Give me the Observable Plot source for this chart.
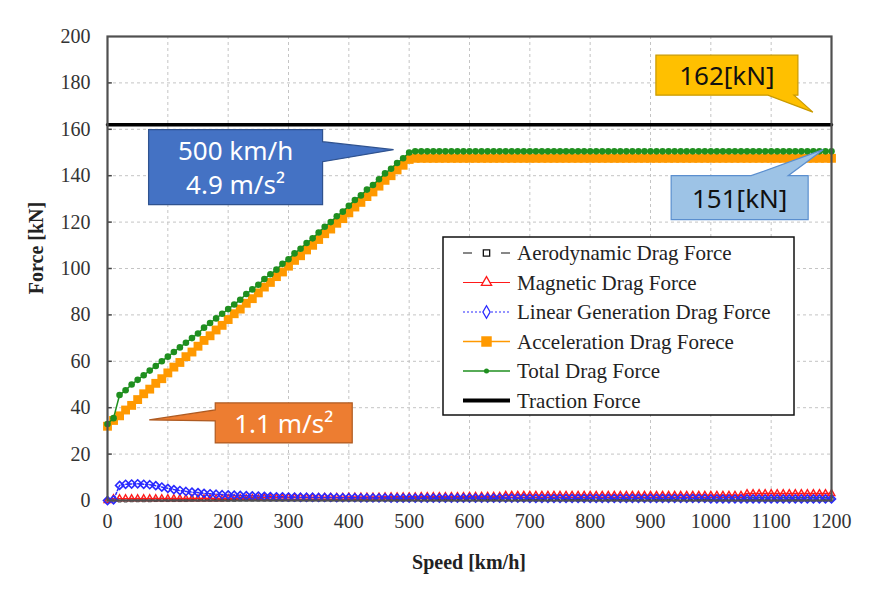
<!DOCTYPE html>
<html><head><meta charset="utf-8">
<script src="https://cdn.jsdelivr.net/npm/d3@7"></script>
<script src="https://cdn.jsdelivr.net/npm/@observablehq/plot@0.6"></script>
<style>body{margin:0;background:#fff;}</style>
</head><body><div id="chart"></div>
<script>
// ---- data ----
const speed = [
  0,10,20,30,40,50,60,70,80,90,
  100,110,120,130,140,150,160,170,180,190,
  200,210,220,230,240,250,260,270,280,290,
  300,310,320,330,340,350,360,370,380,390,
  400,410,420,430,440,450,460,470,480,490,
  500,510,520,530,540,550,560,570,580,590,
  600,610,620,630,640,650,660,670,680,690,
  700,710,720,730,740,750,760,770,780,790,
  800,810,820,830,840,850,860,870,880,890,
  900,910,920,930,940,950,960,970,980,990,
  1000,1010,1020,1030,1040,1050,1060,1070,1080,1090,
  1100,1110,1120,1130,1140,1150,1160,1170,1180,1190,
  1200];
const aeroDrag = [
  0,0.1,0.1,0.1,0.2,0.2,0.2,0.2,0.3,0.3,
  0.3,0.3,0.3,0.3,0.4,0.4,0.4,0.4,0.4,0.4,
  0.4,0.4,0.5,0.5,0.5,0.5,0.5,0.5,0.5,0.5,
  0.5,0.5,0.5,0.5,0.5,0.5,0.5,0.5,0.5,0.5,
  0.5,0.5,0.5,0.5,0.5,0.5,0.5,0.5,0.5,0.5,
  0.5,0.5,0.5,0.5,0.5,0.5,0.5,0.5,0.5,0.5,
  0.5,0.5,0.5,0.5,0.5,0.5,0.5,0.5,0.5,0.5,
  0.5,0.5,0.5,0.5,0.5,0.5,0.5,0.5,0.5,0.5,
  0.5,0.5,0.5,0.5,0.5,0.5,0.5,0.5,0.5,0.5,
  0.5,0.5,0.5,0.5,0.5,0.5,0.5,0.5,0.5,0.5,
  0.5,0.5,0.5,0.5,0.5,0.5,0.5,0.5,0.5,0.5,
  0.5,0.5,0.5,0.5,0.5,0.5,0.5,0.5,0.5,0.5,
  0.5];
const magneticDrag = [
  0,0.8,0.8,0.8,0.8,0.8,0.8,0.8,0.8,0.8,
  0.8,0.8,0.8,0.8,0.8,0.8,0.8,0.8,0.8,0.8,
  0.9,0.9,0.9,0.9,0.9,0.9,1.2,1.2,1.2,1.2,
  1.3,1.3,1.3,1.3,1.3,1.3,1.4,1.4,1.4,1.4,
  1.5,1.5,1.5,1.5,1.5,1.5,1.6,1.6,1.6,1.6,
  1.6,1.6,1.7,1.7,1.7,1.7,1.7,1.7,1.7,1.7,
  1.8,1.8,1.8,1.8,1.8,1.8,2.3,2.3,2.3,2.3,
  2.3,2.3,2.3,2.3,2.3,2.3,2.3,2.3,2.3,2.3,
  2.3,2.3,2.3,2.3,2.3,2.3,2.3,2.3,2.3,2.3,
  2.3,2.3,2.3,2.3,2.3,2.3,2.3,2.3,2.3,2.3,
  2.3,2.3,2.3,2.3,2.3,2.3,3.0,3.0,3.0,3.0,
  3.0,3.0,3.0,3.0,3.0,3.0,3.0,3.0,3.0,3.0,
  3.0];
const linearGenDrag = [
  0,0.3,6.5,7,7.1,7.2,7,6.8,6.4,5.8,
  5.2,4.7,4.3,3.9,3.6,3.4,3.1,2.9,2.7,2.5,
  2.4,2.3,2.2,2.1,2,1.9,1.8,1.7,1.6,1.6,
  1.5,1.5,1.4,1.4,1.4,1.3,1.3,1.3,1.2,1.2,
  1.2,1.2,1.1,1.1,1.1,1.1,1.1,1,1,1,
  1,1,1,1,1,1,1,1,1,1,
  1,1,1,1,1,1,1,1,1,1,
  0.9,0.9,0.9,0.9,0.9,0.9,0.9,0.9,0.9,0.9,
  0.9,0.9,0.9,0.9,0.9,0.9,0.9,0.9,0.9,0.9,
  0.9,0.9,0.9,0.9,0.9,0.9,0.9,0.9,0.9,0.9,
  0.7,0.7,0.7,0.7,0.7,0.7,0.7,0.7,0.7,0.7,
  0.7,0.7,0.7,0.7,0.7,0.7,0.7,0.7,0.7,0.7,
  0.7];
const accelerationDrag = [
  32,34.5,36.5,39,41,43.5,46,48,50.5,52.5,
  55,57.5,59.5,62,64,66.5,69,71,73.5,75.5,
  78,80.5,82.5,85,87,89.5,92,94,96.5,98.5,
  101,103.5,105.5,108,110,112.5,115,117,119.5,121.5,
  124,126.5,128.5,131,133,135.5,138,140,142.5,144.5,
  147,147.5,147.5,147.5,147.5,147.5,147.5,147.5,147.5,147.5,
  147.5,147.5,147.5,147.5,147.5,147.5,147.5,147.5,147.5,147.5,
  147.5,147.5,147.5,147.5,147.5,147.5,147.5,147.5,147.5,147.5,
  147.5,147.5,147.5,147.5,147.5,147.5,147.5,147.5,147.5,147.5,
  147.5,147.5,147.5,147.5,147.5,147.5,147.5,147.5,147.5,147.5,
  147.5,147.5,147.5,147.5,147.5,147.5,147.5,147.5,147.5,147.5,
  147.5,147.5,147.5,147.5,147.5,147.5,147.5,147.5,147.5,147.5,
  147.5];
const totalDrag = [
  33,35.5,45.5,47.5,50,52,54,56,58,60,
  62,64,66,68,70,72,74.5,76.5,78.5,80.5,
  82.5,84.5,86.5,89,91,93,95.5,97.5,99.5,102,
  104,106.5,108.5,111,113,115.5,118,120,122.5,124.5,
  127,129.5,131.5,134,136,138.5,141,143,145.5,147.5,
  150,150.5,150.5,150.5,150.5,150.5,150.5,150.5,150.5,150.5,
  150.5,150.5,150.5,150.5,150.5,150.5,150.5,150.5,150.5,150.5,
  150.5,150.5,150.5,150.5,150.5,150.5,150.5,150.5,150.5,150.5,
  150.5,150.5,150.5,150.5,150.5,150.5,150.5,150.5,150.5,150.5,
  150.5,150.5,150.5,150.5,150.5,150.5,150.5,150.5,150.5,150.5,
  150.5,150.5,150.5,150.5,150.5,150.5,150.5,150.5,150.5,150.5,
  150.5,150.5,150.5,150.5,150.5,150.5,150.5,150.5,150.5,150.5,
  150.5];
const tractionForce = 162;
const seriesNames = ["Aerodynamic Drag Force","Magnetic Drag Force","Linear Generation Drag Force","Acceleration Drag Forece","Total Drag Force","Traction Force"];
const xTicks = [0,100,200,300,400,500,600,700,800,900,1000,1100,1200];
const yTicks = [0,20,40,60,80,100,120,140,160,180,200];
const calloutTexts = {traction:"162[kN]", total:"151[kN]", kink:["500 km/h","4.9 m/s²"], start:"1.1 m/s²"};

// ---- build ----
const rows = vals => speed.map((s,i)=>({speed:s, force:vals[i]}));
const aero = rows(aeroDrag), mag = rows(magneticDrag), lin = rows(linearGenDrag),
      acc = rows(accelerationDrag), tot = rows(totalDrag);
const traction = [{speed:speed[0], force:tractionForce},{speed:speed[speed.length-1], force:tractionForce}];

const C = {aero:"#111", mag:"#ff1a1a", lin:"#2a2aff", acc:"#ff9900", tot:"#1f8f1f", tr:"#000"};
const XY = {x:"speed", y:"force"};

const chart = Plot.plot({
  width: 871, height: 598,
  marginLeft: 107, marginRight: 40, marginTop: 36, marginBottom: 98,
  style: {fontFamily:"'Liberation Serif', serif", fontSize:"20px", color:"#333", background:"#fff"},
  x: {domain:[0,1200], axis:null},
  y: {domain:[0,200], axis:null},
  marks: [
    Plot.ruleX(xTicks.slice(1,-1), {stroke:"#c4c4c4", strokeDasharray:"3,3", strokeWidth:1}),
    Plot.ruleY(yTicks.slice(1,-1), {stroke:"#c4c4c4", strokeDasharray:"3,3", strokeWidth:1}),
    Plot.ruleY(yTicks.slice(1,-1), {x1:0, x2:8, stroke:"#444", strokeWidth:1.5}),
    Plot.axisX(xTicks, {tickSize:0, tickPadding:13, fill:"#333", label:null, tickFormat:d=>String(d)}),
    Plot.axisY(yTicks, {tickSize:0, tickPadding:17, fill:"#333", label:null, tickFormat:d=>String(d)}),
    // aerodynamic
    Plot.line(aero, {...XY, stroke:C.aero, strokeWidth:1, strokeDasharray:"4,3"}),
    Plot.dot(aero, {...XY, symbol:"square2", stroke:C.aero, r:2.2, strokeWidth:0.8}),
    // magnetic
    Plot.line(mag, {...XY, stroke:C.mag, strokeWidth:1.5}),
    Plot.dot(mag, {...XY, symbol:"triangle2", stroke:C.mag, r:3.2, strokeWidth:1.4}),
    // linear generation
    Plot.line(lin, {...XY, stroke:C.lin, strokeWidth:1.5, strokeDasharray:"2,2"}),
    Plot.dot(lin, {...XY, symbol:"diamond2", stroke:C.lin, r:3.6, strokeWidth:1.6}),
    // acceleration
    Plot.line(acc, {...XY, stroke:C.acc, strokeWidth:1.5}),
    Plot.dot(acc, {...XY, symbol:"square", fill:C.acc, r:5}),
    // total
    Plot.line(tot, {...XY, stroke:C.tot, strokeWidth:1.5}),
    Plot.dot(tot, {...XY, symbol:"circle", fill:C.tot, r:3.3}),
    // traction
    Plot.line(traction, {...XY, stroke:C.tr, strokeWidth:3.5}),
    Plot.frame({stroke:"#505050", strokeWidth:2.2})
  ]
});
document.getElementById("chart").appendChild(chart);

// ---- annotations, axis titles, legend ----
const sx = chart.scale("x"), sy = chart.scale("y");
const X = v => sx.apply(v), Y = v => sy.apply(v);
const svg = d3.select(chart);
const g = svg.append("g").attr("text-anchor","start");

// axis titles
g.append("text").attr("x", (X(0)+X(1200))/2).attr("y", 562)
  .attr("text-anchor","middle").attr("dominant-baseline","central")
  .attr("font-family","'Liberation Serif', serif").attr("font-weight","bold")
  .attr("font-size",20).attr("fill","#222").text("Speed [km/h]");
g.append("text").attr("transform","translate(36,248) rotate(-90)")
  .attr("text-anchor","middle").attr("dominant-baseline","central")
  .attr("font-family","'Liberation Serif', serif").attr("font-weight","bold")
  .attr("font-size",20).attr("fill","#222").text("Force [kN]");

// legend
const lg = g.append("g");
const L = {x0:443, y0:237, w:351, h:178, row0:253, dy:29.5, sx0:463, sx1:510, tx:517};
lg.append("rect").attr("x",L.x0).attr("y",L.y0).attr("width",L.w).attr("height",L.h)
  .attr("fill","#fff").attr("stroke","#111").attr("stroke-width",1.5);
const legendStyles = [
  {stroke:C.aero, dash:"9,29", w:1.2, sym:d3.symbolSquare, size:40, fill:"#fff", sstroke:C.aero},
  {stroke:C.mag, dash:null, w:1.2, sym:d3.symbolTriangle, size:45, fill:"#fff", sstroke:C.mag},
  {stroke:C.lin, dash:"2,2", w:1.2, sym:d3.symbolDiamond, size:45, fill:"#fff", sstroke:C.lin},
  {stroke:C.acc, dash:null, w:1.5, sym:d3.symbolSquare, size:110, fill:C.acc, sstroke:"none"},
  {stroke:C.tot, dash:null, w:1.5, sym:d3.symbolCircle, size:20, fill:C.tot, sstroke:"none"},
  {stroke:C.tr, dash:null, w:4, sym:null}
];
seriesNames.forEach((name,i)=>{
  const yy = L.row0 + i*L.dy, s = legendStyles[i];
  const ln = lg.append("line").attr("x1",L.sx0).attr("x2",L.sx1).attr("y1",yy).attr("y2",yy)
    .attr("stroke",s.stroke).attr("stroke-width",s.w);
  if (s.dash) ln.attr("stroke-dasharray",s.dash);
  if (s.sym) lg.append("path").attr("d",d3.symbol(s.sym,s.size)())
    .attr("transform",`translate(${(L.sx0+L.sx1)/2},${yy})`)
    .attr("fill",s.fill).attr("stroke",s.sstroke).attr("stroke-width",1.3);
  lg.append("text").attr("x",L.tx).attr("y",yy).attr("dominant-baseline","central")
    .attr("text-anchor","start")
    .attr("font-family","'Liberation Serif', serif").attr("font-size",21).attr("fill","#222").text(name);
});

// callouts
function callout({tip, box:[bx,by,bw,bh], edge, n1, n2, fill, stroke, lines, color, lineGap}) {
  const x1 = bx+bw, y1 = by+bh;
  let pts;
  if (edge==="top") pts = [[bx,by],[n1,by],tip,[n2,by],[x1,by],[x1,y1],[bx,y1]];
  else if (edge==="right") pts = [[bx,by],[x1,by],[x1,n1],tip,[x1,n2],[x1,y1],[bx,y1]];
  else if (edge==="bottom") pts = [[bx,by],[x1,by],[x1,y1],[n2,y1],tip,[n1,y1],[bx,y1]];
  else pts = [[bx,by],[x1,by],[x1,y1],[bx,y1],[bx,n2],tip,[bx,n1]];
  g.append("path").attr("d","M"+pts.map(p=>p.join(",")).join("L")+"Z")
    .attr("fill",fill).attr("stroke",stroke).attr("stroke-width",1.2);
  const cy = by+bh/2, gap = lineGap||0;
  lines.forEach((t,i)=>{
    g.append("text").attr("x",bx+bw/2).attr("y",cy + (i-(lines.length-1)/2)*gap)
      .attr("text-anchor","middle").attr("dominant-baseline","central")
      .attr("font-family","'Noto Sans', sans-serif").attr("font-size",26).attr("fill",color).text(t);
  });
}
{
  const t = [X(1170), Y(tractionForce)-12];
  callout({tip:t, box:[t[0]-157,t[1]-57,142,40], edge:"bottom", n1:t[0]-45, n2:t[0]-19,
    fill:"#ffc000", stroke:"#c99a00", lines:[calloutTexts.traction], color:"#111"});
}
{
  const t = [X(1187), Y(151)];
  callout({tip:t, box:[t[0]-152,t[1]+26,137,44], edge:"top", n1:t[0]-72, n2:t[0]-35,
    fill:"#9dc3e6", stroke:"#5b8fcf", lines:[calloutTexts.total], color:"#111"});
}
{
  const t = [X(475), Y(151)];
  callout({tip:t, box:[t[0]-245,t[1]-20,174,75], edge:"right", n1:t[1]-8, n2:t[1]+12,
    fill:"#4472c4", stroke:"#2f528f", lines:calloutTexts.kink, color:"#fff", lineGap:34});
}
{
  const t = [X(70), Y(34.5)];
  callout({tip:t, box:[t[0]+66,t[1]-17,137,40], edge:"left", n1:t[1]-10, n2:t[1]+1,
    fill:"#ed7d31", stroke:"#ae5a21", lines:[calloutTexts.start], color:"#fff"});
}
</script>
</body></html>
